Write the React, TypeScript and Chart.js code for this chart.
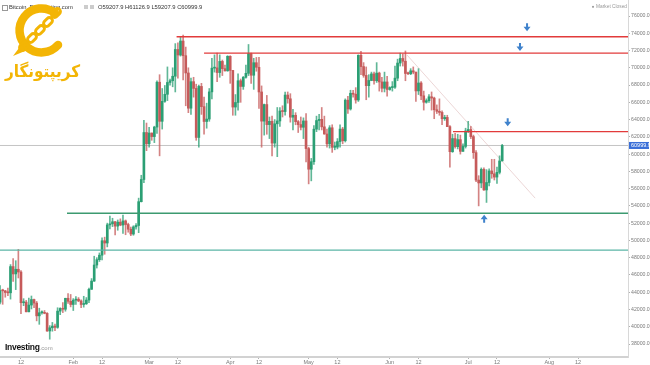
import React, { useEffect, useRef } from 'react';
import { Chart, registerables } from 'chart.js';

Chart.register(...registerables);

// Day index: 0 = 1 Jan 2024. First candle = 3 Jan 2024.
const firstDay = 2;

const opens = [
  // Jan 3-31
  44950, 42850, 44180, 44160, 43970, 43930, 46970, 46120, 46660, 46340, 42780, 42850, 41730, 42510, 43150, 42740, 41260, 41620, 41660, 41550, 39510, 39880, 40080, 39930, 41810, 42120, 42030, 43300, 42950,
  // Feb
  42580, 43080, 43190, 42990, 42580, 42660, 43090, 44340, 45290, 47150, 47770, 48290, 49960, 49700, 51800, 51920, 52160, 51660, 52120, 51780, 52260, 51840, 51300, 50740, 51570, 51730, 54490, 57060, 62500,
  // Mar
  61200, 62440, 62030, 63130, 68330, 63800, 66110, 66930, 68300, 68500, 69020, 72120, 71480, 73100, 71400, 69400, 65320, 68390, 67610, 61930, 67840, 65500, 63780, 64060, 67210, 69960, 69990, 69450, 70740, 69900, 69650,
  // Apr
  71330, 69700, 65450, 65980, 68500, 67840, 68900, 69360, 71630, 69140, 70590, 70060, 67200, 63820, 65740, 63420, 63800, 61280, 63510, 63840, 64990, 64930, 66840, 66410, 64280, 64500, 63760, 63420, 63110, 63840,
  // May
  60640, 58250, 59120, 62890, 63890, 64030, 63160, 62330, 61190, 63050, 60790, 60810, 61450, 62900, 61550, 66250, 65230, 67050, 66940, 66270, 71450, 70140, 69120, 67930, 68530, 69290, 68500, 69390, 68360, 67630, 68360,
  // Jun
  67490, 67710, 67750, 68800, 70550, 71080, 70760, 69340, 69310, 69650, 69500, 67320, 68240, 66750, 66010, 66190, 66640, 66490, 65140, 64960, 64830, 64100, 64250, 63180, 60280, 61800, 60860, 61680, 60320, 60890,
  // Jul 1-14
  62680, 62850, 62030, 60170, 56990, 56660, 58230, 55850, 56710, 58050, 57720, 57340, 57890, 59207.9,
];

const highs = [
  45500, 44770, 44350, 44220, 44480, 47200, 47900, 47650, 48970, 46500, 43250, 43050, 43320, 43560, 43200, 42930, 42150, 41850, 41880, 41650, 40130, 40500, 40300, 42200, 42200, 42800, 43300, 43850, 43740,
  43260, 43480, 43380, 43110, 43530, 43380, 44470, 45580, 48170, 48000, 48550, 50300, 50380, 52000, 52830, 52570, 52200, 52370, 52500, 52950, 52370, 52000, 51550, 51700, 51950, 54900, 57550, 63900, 63600,
  63100, 62450, 63230, 68500, 69200, 67600, 67950, 70100, 68700, 70000, 72800, 72900, 73600, 73780, 72400, 70000, 68800, 68900, 68100, 68000, 68200, 66600, 65900, 67600, 71100, 71500, 71700, 71500, 70900, 70300, 71400,
  71400, 69700, 66900, 69300, 68700, 69000, 70300, 72700, 71700, 71100, 71200, 71200, 67900, 65800, 66800, 64300, 64400, 64000, 65400, 65400, 65600, 67200, 67200, 67000, 65200, 64800, 63900, 64300, 64200, 64700,
  60800, 59500, 63300, 64400, 64600, 65400, 64400, 62900, 63300, 63400, 61400, 61800, 63400, 63100, 66400, 66700, 67400, 67400, 67700, 71500, 71900, 70600, 70100, 69200, 69500, 69500, 70600, 69500, 68900, 69500, 69000,
  67800, 68400, 70200, 71000, 71700, 71600, 71950, 69500, 69900, 70100, 69500, 69900, 68400, 67300, 66400, 66900, 67200, 66600, 65700, 66400, 65000, 64500, 64500, 63300, 62300, 62400, 62300, 62200, 61200, 63000,
  63800, 63200, 62200, 60400, 57500, 58400, 58400, 58200, 58300, 59400, 59400, 58500, 59800, 61126.9,
];

const lows = [
  40750, 42630, 42600, 43420, 43600, 43200, 45250, 44300, 45650, 41500, 42440, 41720, 41720, 42060, 42200, 40680, 40280, 41450, 41500, 39450, 38555, 39480, 39550, 39820, 41400, 41640, 41800, 42700, 42300,
  41880, 42600, 42900, 42220, 42270, 42580, 42780, 44320, 45250, 46800, 47560, 47750, 48400, 49250, 51330, 51600, 50650, 51180, 51700, 50800, 50660, 50950, 50550, 50600, 51300, 50900, 54450, 56700, 60400,
  60800, 61600, 61330, 62400, 59800, 62900, 66000, 66200, 68000, 67800, 67200, 68800, 71350, 68600, 65600, 64800, 64600, 66600, 61600, 60800, 64600, 62300, 63000, 63800, 66400, 69500, 68400, 68900, 69100, 69600, 69600,
  68200, 64500, 64500, 65100, 66000, 67500, 68800, 69100, 68200, 67500, 69600, 65300, 60800, 62200, 62300, 61800, 59800, 60800, 59700, 63200, 64300, 64500, 65900, 63700, 62800, 63400, 62500, 62800, 61800, 59100,
  56550, 56900, 58800, 62600, 62800, 62800, 62300, 60800, 60700, 60200, 60500, 60600, 60800, 61200, 61400, 64700, 65100, 66600, 65900, 66100, 69200, 68900, 66300, 66600, 68500, 68100, 68300, 67300, 67200, 67200, 66700,
  67400, 67300, 67600, 68500, 70200, 70200, 68500, 69200, 69200, 69300, 66100, 66900, 66300, 65100, 65900, 66000, 65100, 64100, 64700, 64500, 63400, 63900, 63200, 58500, 60200, 60700, 60600, 60000, 60300, 60700,
  62500, 61800, 59500, 56800, 54000, 56100, 55800, 54400, 56300, 57200, 57000, 56600, 57700, 59207.9,
];

const closes = [
  42850, 44180, 44160, 43970, 43930, 46970, 46120, 46660, 46340, 42780, 42850, 41730, 42510, 43150, 42740, 41260, 41620, 41660, 41550, 39510, 39880, 40080, 39930, 41810, 42120, 42030, 43300, 42950, 42580,
  43080, 43190, 42990, 42580, 42660, 43090, 44340, 45290, 47150, 47770, 48290, 49960, 49700, 51800, 51920, 52160, 51660, 52120, 51780, 52260, 51840, 51300, 50740, 51570, 51730, 54490, 57060, 62500, 61200,
  62440, 62030, 63130, 68330, 63800, 66110, 66930, 68300, 68500, 69020, 72120, 71480, 73100, 71400, 69400, 65320, 68390, 67610, 61930, 67840, 65500, 63780, 64060, 67210, 69960, 69990, 69450, 70740, 69900, 69650, 71330,
  69700, 65450, 65980, 68500, 67840, 68900, 69360, 71630, 69140, 70590, 70060, 67200, 63820, 65740, 63420, 63800, 61280, 63510, 63840, 64990, 64930, 66840, 66410, 64280, 64500, 63760, 63420, 63110, 63840, 60640,
  58250, 59120, 62890, 63890, 64030, 63160, 62330, 61190, 63050, 60790, 60810, 61450, 62900, 61550, 66250, 65230, 67050, 66940, 66270, 71450, 70140, 69120, 67930, 68530, 69290, 68500, 69390, 68360, 67630, 68360, 67490,
  67710, 67750, 68800, 70550, 71080, 70760, 69340, 69310, 69650, 69500, 67320, 68240, 66750, 66010, 66190, 66640, 66490, 65140, 64960, 64830, 64100, 64250, 63180, 60280, 61800, 60860, 61680, 60320, 60890, 62680,
  62850, 62030, 60170, 56990, 56660, 58230, 55850, 56710, 58050, 57720, 57340, 57890, 59207.9, 60999.9,
];

const lastClose = 60999.9;

// Horizontal levels (start day, price)
const levelStarts = [70.5, 81, 176.2, 28.6, 2.98];
const levelValues = [73600, 71700, 62600, 53150, 48880];
const levelColors = ['#e23b3b', '#e23b3b', '#e23b3b', '#3c9a70', '#5bb5a6'];

// Faint descending trend line
const trendDays = [158.6, 207.6];
const trendValues = [71480, 54900];

// Blue arrows (day, price, direction)
const arrowDays = [204.5, 201.8, 197.1, 188.1];
const arrowValues = [74700, 72400, 63700, 52500];
const arrowDirs = ['down', 'down', 'down', 'up'];

const yTicks = [38000, 40000, 42000, 44000, 46000, 48000, 50000, 52000, 54000, 56000, 58000, 60000, 62000, 64000, 66000, 68000, 70000, 72000, 74000, 76000];
const xTickDays = [11, 31, 42, 60, 71, 91, 102, 121, 132, 152, 163, 182, 193, 213, 224];
const xTickLabels = ['12', 'Feb', '12', 'Mar', '12', 'Apr', '12', 'May', '12', 'Jun', '12', 'Jul', '12', 'Aug', '12'];

const X_MIN = 2.98;
const X_MAX = 243.1;
const Y_MIN = 36494;
const Y_MAX = 77854;

const UP = '#2b9f74';
const DOWN = '#c65a5a';
const UP_WICK = 'rgba(43,159,116,0.75)';
const DOWN_WICK = 'rgba(198,90,90,0.75)';

const overlayPlugin = {
  id: 'overlayPlugin',
  afterDatasetsDraw(chart: any) {
    const { ctx, scales } = chart;
    const xs = scales.x;
    const ys = scales.y;
    ctx.save();
    ctx.fillStyle = '#3f82cc';
    arrowDays.forEach((d, i) => {
      const px = xs.getPixelForValue(d);
      const py = ys.getPixelForValue(arrowValues[i]);
      const s = arrowDirs[i] === 'down' ? 1 : -1;
      ctx.beginPath();
      ctx.moveTo(px - 1, py - 4 * s);
      ctx.lineTo(px + 1, py - 4 * s);
      ctx.lineTo(px + 1, py - 0.5 * s);
      ctx.lineTo(px + 3.5, py - 0.5 * s);
      ctx.lineTo(px, py + 4 * s);
      ctx.lineTo(px - 3.5, py - 0.5 * s);
      ctx.lineTo(px - 1, py - 0.5 * s);
      ctx.closePath();
      ctx.fill();
    });
    ctx.restore();
  },
  afterDraw(chart: any) {
    const { ctx, scales, chartArea } = chart;
    const py = scales.y.getPixelForValue(lastClose);
    ctx.save();
    ctx.fillStyle = '#3a6fd8';
    ctx.fillRect(chartArea.right + 1, py - 3.5, 20, 7);
    ctx.fillStyle = '#ffffff';
    ctx.font = '5.5px "Liberation Sans", Arial, sans-serif';
    ctx.textBaseline = 'middle';
    ctx.textAlign = 'left';
    ctx.fillText(lastClose.toFixed(1), chartArea.right + 3, py + 0.3);
    ctx.restore();
  },
};

export default function App() {
  const canvasRef = useRef<HTMLCanvasElement | null>(null);

  useEffect(() => {
    const canvas = canvasRef.current;
    if (!canvas) return;
    const days = closes.map((_, i) => firstDay + i);
    const wickData = days.map((d, i) => ({ x: d, y: [lows[i], highs[i]] }));
    const bodyData = days.map((d, i) => ({ x: d, y: [Math.min(opens[i], closes[i]), Math.max(opens[i], closes[i])] }));
    const bodyColors = days.map((_, i) => (closes[i] >= opens[i] ? UP : DOWN));
    const wickColors = days.map((_, i) => (closes[i] >= opens[i] ? UP_WICK : DOWN_WICK));

    const levelSets = levelValues.map((v, k) => ({
      type: 'line',
      data: [{ x: levelStarts[k], y: v }, { x: X_MAX, y: v }],
      borderColor: levelColors[k],
      borderWidth: 1.4,
      pointRadius: 0,
      order: 1,
    }));

    const chart = new Chart(canvas, {
      type: 'bar',
      data: {
        datasets: [
          {
            type: 'line',
            data: [{ x: X_MIN, y: lastClose }, { x: X_MAX, y: lastClose }],
            borderColor: '#c4c4c4',
            borderWidth: 1,
            pointRadius: 0,
            order: 10,
          } as any,
          {
            type: 'line',
            data: trendDays.map((d, i) => ({ x: d, y: trendValues[i] })),
            borderColor: 'rgba(220,180,180,0.55)',
            borderWidth: 1,
            pointRadius: 0,
            order: 9,
          } as any,
          {
            type: 'bar',
            data: wickData,
            backgroundColor: wickColors,
            barThickness: 1,
            grouped: false,
            order: 5,
          } as any,
          {
            type: 'bar',
            data: bodyData,
            backgroundColor: bodyColors,
            barThickness: 2,
            minBarLength: 1,
            grouped: false,
            order: 4,
          } as any,
          ...(levelSets as any[]),
        ],
      },
      options: {
        animation: false,
        responsive: false,
        maintainAspectRatio: false,
        events: [],
        layout: { padding: 0 },
        plugins: {
          legend: { display: false },
          tooltip: { enabled: false },
        },
        scales: {
          x: {
            type: 'linear',
            min: X_MIN,
            max: X_MAX,
            offset: false,
            position: 'bottom',
            grid: { display: true, drawOnChartArea: false, offset: false, color: '#b0b0b0', tickLength: 2 },
            border: { display: true, color: '#d2d2d2', width: 2 },
            ticks: {
              autoSkip: false,
              maxRotation: 0,
              padding: 0,
              color: '#7a7a7a',
              font: { size: 5.5, family: '"Liberation Sans", Arial, sans-serif' },
              callback: (_v: any, i: number) => xTickLabels[i],
            },
            afterBuildTicks: (s: any) => {
              s.ticks = xTickDays.map((v) => ({ value: v }));
            },
            afterFit: (s: any) => {
              s.height = 8;
              s.paddingLeft = 0;
              s.paddingRight = 0;
            },
          },
          y: {
            type: 'linear',
            position: 'right',
            min: Y_MIN,
            max: Y_MAX,
            grid: { display: true, drawOnChartArea: false, color: '#b0b0b0', tickLength: 2 },
            border: { display: true, color: '#d8d8d8', width: 1 },
            ticks: {
              padding: 1,
              color: '#7a7a7a',
              font: { size: 5.2, family: '"Liberation Sans", Arial, sans-serif' },
              callback: (v: any) => Number(v).toFixed(1),
            },
            afterBuildTicks: (s: any) => {
              s.ticks = yTicks.map((v) => ({ value: v }));
            },
            afterFit: (s: any) => {
              s.width = 22;
              s.paddingTop = 0;
              s.paddingBottom = 0;
            },
          },
        },
      } as any,
      plugins: [overlayPlugin],
    });
    return () => chart.destroy();
  }, []);

  const textFont = '"Liberation Sans", Arial, sans-serif';

  return (
    <div style={{ position: 'fixed', left: 0, top: 0, width: 650, height: 365, background: '#ffffff', overflow: 'hidden' }}>
      <canvas ref={canvasRef} width={650} height={365} style={{ display: 'block', position: 'absolute', left: 0, top: 0 }} />
      {/* header */}
      <div style={{ position: 'absolute', left: 2, top: 5, width: 4, height: 4, border: '1px solid #999' }} />
      <div style={{ position: 'absolute', left: 9, top: 4, font: `5.8px ${textFont}`, color: '#333', whiteSpace: 'nowrap' }}>
        Bitcoin, D, Investing.com
      </div>
      <div style={{ position: 'absolute', left: 84, top: 5, width: 4, height: 4, background: '#ccc' }} />
      <div style={{ position: 'absolute', left: 90, top: 5, width: 4, height: 4, background: '#ccc' }} />
      <div style={{ position: 'absolute', left: 98, top: 4, font: `5.8px ${textFont}`, color: '#333', whiteSpace: 'nowrap' }}>
        O59207.9 H61126.9 L59207.9 C60999.9
      </div>
      <div style={{ position: 'absolute', right: 23, top: 4, font: `4.8px ${textFont}`, color: '#999', whiteSpace: 'nowrap' }}>
        ● Market Closed
      </div>
      {/* logo watermark */}
      <svg width={90} height={85} style={{ position: 'absolute', left: 0, top: 0 }}>
        <path d="M 55 13 A 22 22 0 1 0 58 45" fill="none" stroke="#f3b505" strokeWidth={8.5} strokeLinecap="round" />
        <g fill="none" stroke="#f3b505" strokeWidth={3}>
          <rect x={-5} y={-3} width={10} height={6} rx={3} transform="translate(24 46) rotate(-45)" />
          <rect x={-5} y={-3} width={10} height={6} rx={3} transform="translate(32 38) rotate(-45)" />
          <rect x={-5} y={-3} width={10} height={6} rx={3} transform="translate(40 30) rotate(-45)" />
          <rect x={-5} y={-3} width={10} height={6} rx={3} transform="translate(48 22) rotate(-45)" />
          <rect x={-5} y={-3} width={10} height={6} rx={3} transform="translate(56 13) rotate(-45)" />
        </g>
        <path d="M 13 56 L 22 44 L 25 51 Z" fill="#f3b505" />
        <text x={5} y={77} textLength={75} lengthAdjust="spacingAndGlyphs" fill="#f3b505" fontSize={17} fontWeight="bold" fontFamily='"DejaVu Sans", sans-serif'>
          کریپتونگار
        </text>
      </svg>
      {/* Investing.com */}
      <div style={{ position: 'absolute', left: 5, top: 340, whiteSpace: 'nowrap', lineHeight: '10px' }}>
        <span style={{ font: `bold 8.5px ${textFont}`, color: '#111', letterSpacing: '-0.3px' }}>Investing</span>
        <span style={{ font: `6px ${textFont}`, color: '#999' }}>.com</span>
      </div>
    </div>
  );
}
